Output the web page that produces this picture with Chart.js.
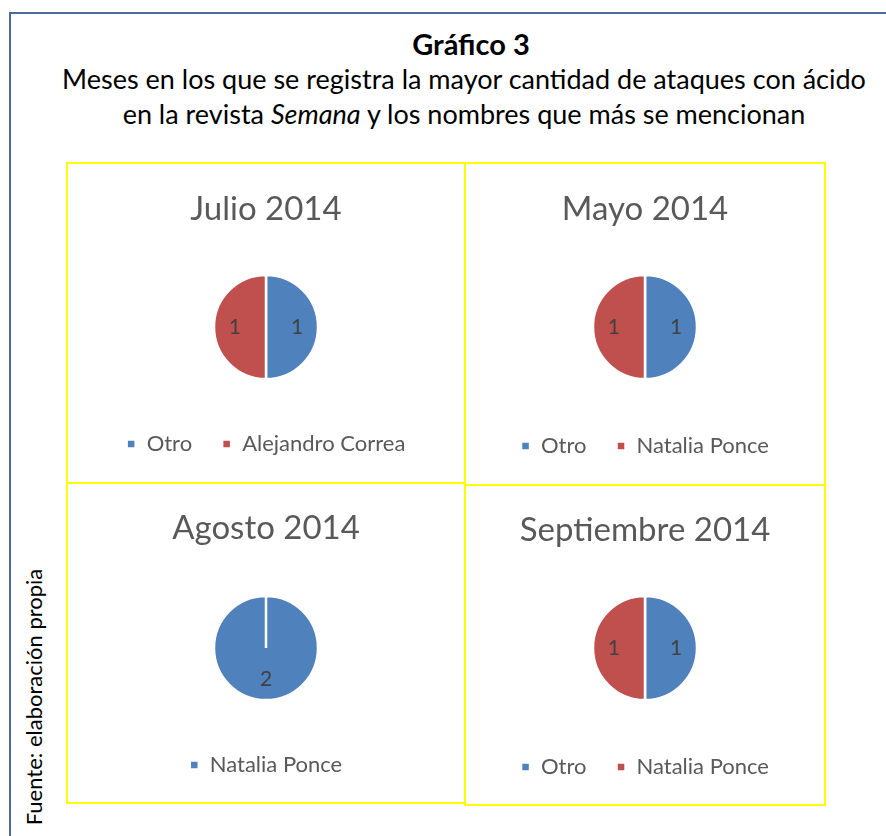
<!DOCTYPE html>
<html>
<head>
<meta charset="utf-8">
<script src="https://cdn.jsdelivr.net/npm/chart.js@4.4.0/dist/chart.umd.min.js"></script>
<style>
  body { margin: 0; background: #fff; width: 886px; height: 836px; overflow: hidden; position: relative; font-family: Lato, "Open Sans", sans-serif; }
  #frame { position: absolute; left: 9px; top: 12px; width: 900px; height: 900px; border: 2px solid #4a6b9b; box-sizing: border-box; }
  .head { position: absolute; left: 0; width: 928px; text-align: center; color: #000; font-size: 27px; line-height: 32px; white-space: nowrap; }
  .panel { position: absolute; border: 2px solid #ffff00; box-sizing: border-box; }
  .panel canvas { display: block; }
  #side { position: absolute; left: 33px; top: 697px; transform: translate(-50%, -50%) rotate(-90deg); font-size: 22px; color: #000; white-space: nowrap; }
</style>
</head>
<body>
<div id="frame"></div>
<div class="head" style="top:28px;font-weight:bold;font-size:29px;width:942px;">Gráfico 3</div>
<div class="head" style="top:63px;">Meses en los que se registra la mayor cantidad de ataques con ácido</div>
<div class="head" style="top:98px;">en la revista <i>Semana</i> y los nombres que más se mencionan</div>
<div id="side">Fuente: elaboración propia</div>

<div class="panel" style="left:66px;top:162px;width:400px;height:322px;"><canvas id="julio"></canvas></div>
<div class="panel" style="left:464px;top:162px;width:362px;height:324px;"><canvas id="mayo"></canvas></div>
<div class="panel" style="left:66px;top:482px;width:400px;height:322px;"><canvas id="agosto"></canvas></div>
<div class="panel" style="left:464px;top:484px;width:362px;height:322px;"><canvas id="septiembre"></canvas></div>

<script>
// data per month
var julioLabels = ['Otro', 'Alejandro Correa'];
var julioValues = [1, 1];
var mayoLabels = ['Otro', 'Natalia Ponce'];
var mayoValues = [1, 1];
var agostoLabels = ['Natalia Ponce'];
var agostoValues = [2];
var septiembreLabels = ['Otro', 'Natalia Ponce'];
var septiembreValues = [1, 1];

var blue = '#4f81bd';
var red = '#c0504d';
var textGrey = '#595959';
var fontName = 'Lato, "Open Sans", sans-serif';
var titleSize = 33;
var legendSize = 22;

// values drawn inside the slices, like excel data labels
var sliceLabels = {
    id: 'sliceLabels',
    afterDatasetsDraw: function (chart) {
        var ctx = chart.ctx;
        var meta = chart.getDatasetMeta(0);
        var values = chart.data.datasets[0].data;
        ctx.save();
        ctx.fillStyle = '#404040';
        ctx.font = '21px ' + fontName;
        ctx.textAlign = 'center';
        ctx.textBaseline = 'middle';
        meta.data.forEach(function (arc, i) {
            var p = arc.getProps(['x', 'y', 'startAngle', 'endAngle', 'outerRadius']);
            var mid = (p.startAngle + p.endAngle) / 2;
            var r = p.outerRadius * 0.6;
            ctx.fillText(values[i], p.x + Math.cos(mid) * r, p.y + Math.sin(mid) * r);
        });
        ctx.restore();
    }
};

function makePie(id, title, labels, values, colors, h, titleY, pieY, legendY) {
    var titleLine = titleSize * 1.2;
    var padTop = titleY - titleLine / 2;
    var padBottom = h - legendY - 10 - legendSize / 2;
    var legendTop = h - padBottom - (legendSize + 30 + 10);
    var titleBottom = 2 * pieY - legendTop;
    new Chart(document.getElementById(id), {
        type: 'pie',
        data: {
            labels: labels,
            datasets: [{
                data: values,
                backgroundColor: colors,
                borderColor: '#ffffff',
                borderWidth: 2.5,
                radius: 52
            }]
        },
        options: {
            responsive: true,
            maintainAspectRatio: false,
            animation: false,
            layout: { padding: { top: 0, bottom: padBottom, left: 0, right: 0 } },
            plugins: {
                title: {
                    display: true,
                    text: title,
                    color: textGrey,
                    font: { family: fontName, size: titleSize, weight: 'normal', lineHeight: 1.2 },
                    padding: { top: padTop, bottom: titleBottom - padTop - titleLine }
                },
                legend: {
                    position: 'bottom',
                    labels: {
                        color: textGrey,
                        font: { family: fontName, size: legendSize },
                        boxWidth: 9,
                        boxHeight: 9,
                        padding: 30
                    }
                },
                tooltip: { enabled: false }
            }
        },
        plugins: [sliceLabels]
    });
}

makePie('julio', 'Julio 2014', julioLabels, julioValues, [blue, red], 318, 45, 163, 280);
makePie('mayo', 'Mayo 2014', mayoLabels, mayoValues, [blue, red], 320, 45, 163, 282);
makePie('agosto', 'Agosto 2014', agostoLabels, agostoValues, [blue], 318, 44, 164, 281);
makePie('septiembre', 'Septiembre 2014', septiembreLabels, septiembreValues, [blue, red], 318, 44, 162, 281);
</script>
</body>
</html>
